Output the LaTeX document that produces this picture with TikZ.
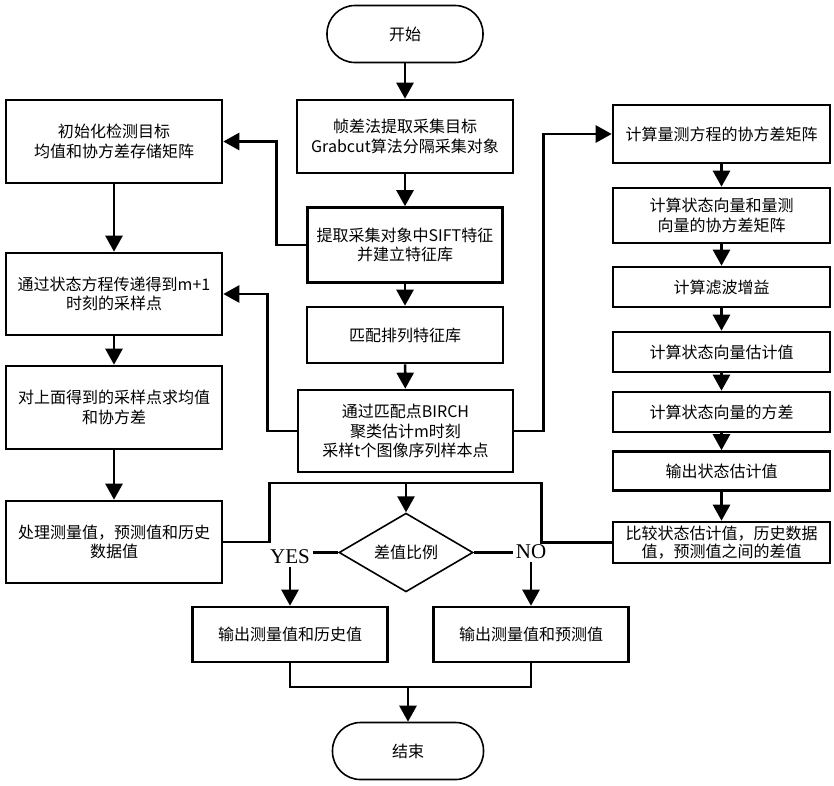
\documentclass[tikz,border=0pt]{standalone}
\usepackage{fontspec}
\usepackage{tikz}
\usetikzlibrary{arrows.meta,positioning,calc,shapes.geometric}
\newfontfamily\cjk{Noto Sans CJK SC}
\newfontfamily\lat{Liberation Serif}
\definecolor{ink}{HTML}{000000}

\begin{document}
\begin{tikzpicture}[
  x=1pt, y=-1pt, line cap=butt, line join=miter,
  font=\cjk\fontsize{16}{19.5}\selectfont,
  box/.style={draw=ink, line width=2.6pt, align=center, inner sep=2pt,
              minimum width=216pt, text=ink},
  term/.style={draw=ink, line width=1.6pt, rounded corners=28pt,
               minimum width=156pt, minimum height=57pt},
  dec/.style={diamond, draw=ink, line width=1.6pt, inner sep=0pt,
              minimum width=134pt, minimum height=65pt},
  lbl/.style={font=\lat\fontsize{21}{21}\selectfont, inner sep=3pt},
  ln/.style={ink, line width=2.6pt},
  fl/.style={-{Triangle[length=16pt,width=17pt]}, ink, line width=2.6pt}]

\useasboundingbox (0,0) rectangle (834,785);

% middle column
\node[term] (start) at (405,34) {开始};
\node[box, minimum height=73pt] (b1) at (405,136.5)
  {帧差法提取采集目标\\ Grabcut算法分隔采集对象};
\node[box, minimum width=195pt, minimum height=75pt] (b2) at (405,245)
  {提取采集对象中SIFT特征\\ 并建立特征库};
\node[box, minimum width=196pt, minimum height=56pt] (b3) at (405,335)
  {匹配排列特征库};
\node[box, minimum width=215pt, minimum height=82pt] (b4) at (405.5,431)
  {通过匹配点BIRCH\\ 聚类估计m时刻\\ 采样t个图像序列样本点};

% left column
\node[box, minimum height=83pt] (l1) at (114,141.5)
  {初始化检测目标\\ 均值和协方差存储矩阵};
\node[box, minimum height=82pt] (l2) at (114,294)
  {通过状态方程传递得到m+1\\ 时刻的采样点};
\node[box, minimum height=83pt] (l3) at (114,407.5)
  {对上面得到的采样点求均值\\ 和协方差};
\node[box, minimum height=82pt] (l4) at (114,542)
  {处理测量值，预测值和历史\\ 数据值};

% right column
\node[box, minimum width=217pt, minimum height=58pt] (r1) at (721.5,134)
  {计算量测方程的协方差矩阵};
\node[box, minimum width=217pt, minimum height=55pt] (r2) at (721.5,215.5)
  {计算状态向量和量测\\ 向量的协方差矩阵};
\node[box, minimum width=217pt, minimum height=40pt] (r3) at (721.5,287)
  {计算滤波增益};
\node[box, minimum width=217pt, minimum height=40pt] (r4) at (721.5,352)
  {计算状态向量估计值};
\node[box, minimum width=217pt, minimum height=40pt] (r5) at (721.5,412)
  {计算状态向量的方差};
\node[box, minimum width=217pt, minimum height=39pt] (r6) at (721.5,471)
  {输出状态估计值};
\node[box, minimum width=217pt, minimum height=41pt, inner sep=0pt,
      font=\cjk\fontsize{16}{18}\selectfont] (r7) at (721.5,542.5)
  {比较状态估计值，历史数据\\ 值，预测值之间的差值};

% decision and outputs
\node[dec] (dia) at (406,552.5) {差值比例};
\node[lbl] (yes) at (290,557) {YES};
\node[lbl] (no) at (531,552) {NO};
\node[box, minimum width=195pt, minimum height=55pt] (outl) at (290,634.5)
  {输出测量值和历史值};
\node[box, minimum width=195pt, minimum height=55pt] (outr) at (531,634.5)
  {输出测量值和预测值};
\node[term, minimum width=151pt] (stop) at (408,751) {结束};

\coordinate (bus) at (406,483);
\coordinate (join) at (408,687);

% connectors
\draw[fl] (start) -- (b1);
\draw[fl] (b1) -- (b2);
\draw[fl] (b2) -- (b3);
\draw[fl] (b3) -- (b4);
\draw[fl] (b2.west) -- ++(-30,0) |- (l1.east);
\draw[fl] (b4.west) -- ++(-29,0) |- (l2.east);
\draw[fl] (b4.east) -- ++(29,0) |- (r1.west);

\draw[fl] (l1) -- (l2);
\draw[fl] (l2) -- (l3);
\draw[fl] (l3) -- (l4);

\draw[fl] (r1) -- (r2);
\draw[fl] (r2) -- (r3);
\draw[fl] (r3) -- (r4);
\draw[fl] (r4) -- (r5);
\draw[fl] (r5) -- (r6);
\draw[fl] (r6) -- (r7);

\draw[ln] (l4.east) -- ++(46,0) |- (bus);
\draw[ln] (r7.west) -- ++(-70,0) |- (bus);
\draw[fl] (bus) -- (dia.north);

\draw[ln] (dia.west) -- (dia.west -| yes.east);
\draw[ln] (dia.east) -- (dia.east -| no.west);
\draw[fl] (yes.south) -- (outl.north);
\draw[fl] (no.south) -- (outr.north);

\draw[ln] (outl.south) |- (join);
\draw[ln] (outr.south) |- (join);
\draw[fl] (join) -- (stop.north);

\end{tikzpicture}
\end{document}
